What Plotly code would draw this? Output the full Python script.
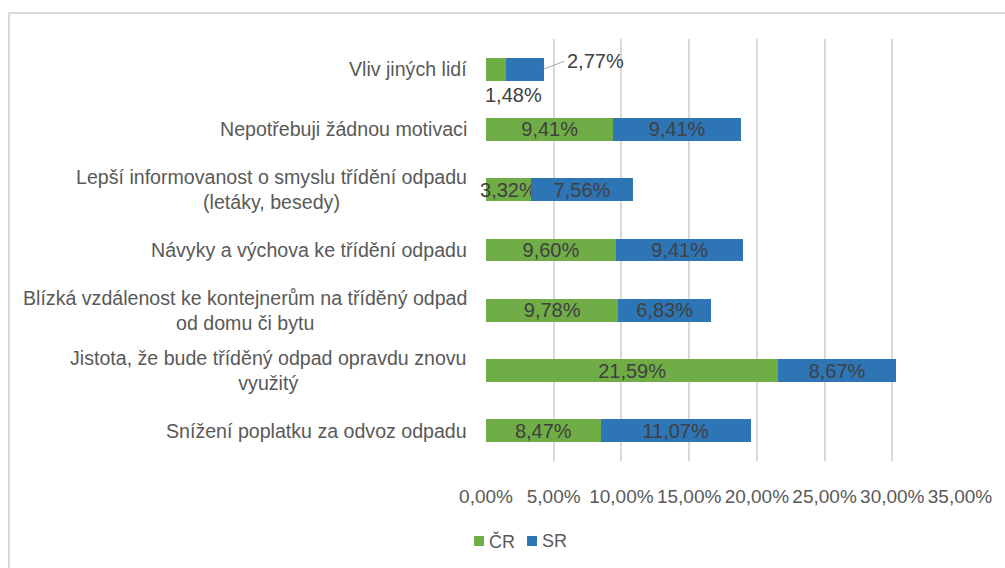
import plotly.graph_objects as go

categories = [
    "Snížení poplatku za odvoz odpadu",
    "Jistota, že bude tříděný odpad opravdu znovu<br>využitý",
    "Blízká vzdálenost ke kontejnerům na tříděný odpad<br>od domu či bytu",
    "Návyky a výchova ke třídění odpadu",
    "Lepší informovanost o smyslu třídění odpadu<br>(letáky, besedy)",
    "Nepotřebuji žádnou motivaci",
    "Vliv jiných lidí",
]
cr_values = [8.47, 21.59, 9.78, 9.60, 3.32, 9.41, 1.48]
sr_values = [11.07, 8.67, 6.83, 9.41, 7.56, 9.41, 2.77]
series_names = ["ČR", "SR"]
tick_values = [0, 5, 10, 15, 20, 25, 30, 35]
tick_labels = ["0,00%", "5,00%", "10,00%", "15,00%", "20,00%", "25,00%", "30,00%", "35,00%"]

FONT = "Liberation Sans, Arial, sans-serif"
GREEN = "#70AD47"
BLUE = "#2E75B6"
LABEL_C = "#404040"
TICK_C = "#595959"

W, H = 1005, 568
L, R, T, B = 486, 960, 39, 461   # plot area in pixels


def fmt(v):
    return f"{v:.2f}".replace(".", ",") + "%"


def px(x):
    return (x - L) / (R - L)


def py(y):
    return (B - y) / (B - T)


small = categories[-1]
cr_text = [fmt(v) if c != small else "" for c, v in zip(categories, cr_values)]
sr_text = [fmt(v) if c != small else "" for c, v in zip(categories, sr_values)]

fig = go.Figure()
for name, vals, txt, col in [(series_names[0], cr_values, cr_text, GREEN),
                             (series_names[1], sr_values, sr_text, BLUE)]:
    fig.add_trace(go.Bar(
        y=categories, x=vals, name=name, orientation="h",
        marker=dict(color=col, line=dict(width=0)),
        text=txt, textposition="inside", insidetextanchor="middle",
        textfont=dict(family=FONT, size=20, color=LABEL_C),
        constraintext="none", cliponaxis=False, showlegend=False,
    ))

annotations = []
for c in categories:
    annotations.append(dict(
        xref="paper", yref="y", x=0, y=c, xanchor="right", yanchor="middle",
        xshift=-17, text=c, showarrow=False, align="center",
        font=dict(family=FONT, size=19.6, color=TICK_C),
    ))
annotations.append(dict(
    xref="x", yref="y", x=0, y=small, xanchor="left", yanchor="middle",
    yshift=-26, xshift=-3, text=fmt(cr_values[-1]), showarrow=False,
    font=dict(family=FONT, size=20, color=LABEL_C),
))
annotations.append(dict(
    xref="x", yref="y", x=cr_values[-1] + sr_values[-1], y=small,
    text=fmt(sr_values[-1]), showarrow=True, arrowhead=0, arrowwidth=1,
    arrowcolor="#A6A6A6", ax=21, ay=-8, xanchor="left", yanchor="middle",
    font=dict(family=FONT, size=20, color=LABEL_C),
))

legend_items = [(series_names[0], GREEN, 474), (series_names[1], BLUE, 527)]
shapes = [dict(
    type="rect", xref="paper", yref="paper",
    x0=px(9), x1=1.2, y0=-0.5, y1=py(13),
    line=dict(color="#D9D9D9", width=2), fillcolor="rgba(0,0,0,0)",
    layer="below",
)]
for name, col, x0 in legend_items:
    shapes.append(dict(
        type="rect", xref="paper", yref="paper",
        x0=px(x0), x1=px(x0 + 10), y0=py(546), y1=py(536),
        line=dict(width=0), fillcolor=col,
    ))
    annotations.append(dict(
        xref="paper", yref="paper", x=px(x0 + 13), y=py(541),
        xanchor="left", yanchor="middle", text=name, showarrow=False,
        font=dict(family=FONT, size=18, color=TICK_C),
    ))

fig.update_layout(
    width=W, height=H,
    barmode="stack", bargap=0.62,
    paper_bgcolor="white", plot_bgcolor="white",
    margin=dict(l=L, r=W - R, t=T, b=H - B),
    font=dict(family=FONT, color=TICK_C),
    showlegend=False,
    xaxis=dict(
        range=[0, 35], tickvals=tick_values, ticktext=tick_labels,
        showgrid=True, gridcolor="#D9D9D9", gridwidth=2,
        zeroline=False, showline=False, tickangle=0,
        ticks="", ticklabelstandoff=22,
        tickfont=dict(family=FONT, size=19, color=TICK_C),
    ),
    yaxis=dict(
        categoryorder="array", categoryarray=categories,
        showticklabels=False, showgrid=False, zeroline=False, showline=False,
    ),
    annotations=annotations,
    shapes=shapes,
)

fig.write_html("out.html", config={"displayModeBar": False},
               post_script="document.body.style.margin='0';")
